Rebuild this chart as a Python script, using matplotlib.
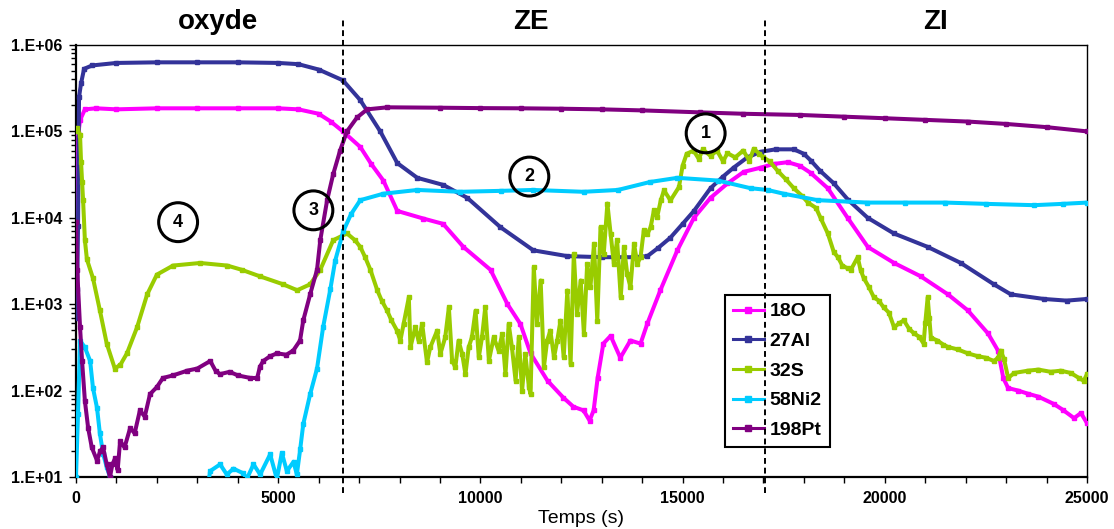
import matplotlib
matplotlib.use("Agg")
import matplotlib.pyplot as plt
from matplotlib.ticker import FixedLocator, FixedFormatter, LogLocator, NullFormatter, MultipleLocator
from matplotlib.transforms import blended_transform_factory
from matplotlib.lines import Line2D

plt.rcParams['font.family'] = ['Liberation Sans', 'DejaVu Sans']

# ---------------- data (time in s, intensity in counts) ----------------
t_18O = [0, 40, 60, 100, 220, 500, 1000, 2000, 3000, 4000, 5000, 5500, 6000, 6300, 6600, 7030, 7300, 7600,
         7945, 8590, 9080, 9580, 10250, 10670, 10990, 11240, 11660, 12050, 12300, 12550, 12700, 12800, 12900,
         13040, 13220, 13460, 13710, 13960, 14130, 14450, 14870, 15280, 15690, 16110, 16510, 16930, 17250,
         17600, 17900, 18170, 18590, 19080, 19580, 20230, 20890, 21560, 22050, 22550, 22800, 22930, 23050,
         23300, 23540, 23800, 24180, 24400, 24680, 24850, 25000]
v_18O = [2.1e3, 3.7e4, 9.6e4, 1.35e5, 1.8e5, 1.85e5, 1.8e5, 1.85e5, 1.85e5, 1.85e5, 1.85e5, 1.8e5, 1.6e5, 1.3e5,
         1.0e5, 6.6e4, 4.2e4, 2.7e4, 1.2e4, 9.8e3, 8.5e3, 4.6e3, 2.5e3, 1.0e3, 590, 270, 130, 83, 65, 59, 45, 59,
         141, 350, 430, 240, 380, 350, 600, 1.45e3, 4.2e3, 1.0e4, 1.7e4, 2.5e4, 3.4e4, 3.8e4, 4.2e4, 4.4e4, 4.0e4,
         3.3e4, 2.2e4, 1.0e4, 4.6e3, 3.0e3, 2.1e3, 1.3e3, 850, 460, 290, 140, 107, 100, 92, 85, 70, 60, 48, 55, 42]

t_27Al = [0, 30, 50, 75, 125, 200, 400, 1000, 2000, 3000, 4000, 5000, 5500, 6000, 6600, 7030, 7524, 7945, 8440,
          9083, 9677, 10494, 11311, 12152, 13000, 13786, 14130, 14400, 14700, 15000, 15280, 15690, 16000, 16260,
          16600, 16930, 17300, 17750, 18000, 18170, 18400, 18740, 19100, 19577, 20221, 21062, 21879, 22696,
          23116, 23933, 24500, 25000]
v_27Al = [7e2, 1.5e3, 8e3, 2.5e5, 3.6e5, 5.3e5, 5.8e5, 6.2e5, 6.3e5, 6.3e5, 6.3e5, 6.2e5, 6.0e5, 5.2e5, 3.9e5,
          2.3e5, 1.0e5, 4.3e4, 2.9e4, 2.4e4, 1.7e4, 7.8e3, 4.2e3, 3.6e3, 3.5e3, 3.5e3, 3.6e3, 4.5e3, 5.9e3, 8.5e3,
          1.2e4, 2.2e4, 3.0e4, 3.8e4, 5.0e4, 5.8e4, 6.2e4, 6.2e4, 5.5e4, 4.6e4, 3.5e4, 2.5e4, 1.6e4, 1.0e4, 6.6e3,
          4.6e3, 3.0e3, 1.7e3, 1.3e3, 1.15e3, 1.1e3, 1.15e3]

t_32S = [0, 25, 100, 125, 150, 175, 220, 270, 420, 590, 760, 960, 1100, 1260, 1510, 1760, 2000, 2400, 3070, 3740,
         4100, 4550, 5120, 5470, 5790, 6040, 6360, 6700, 6900, 7030, 7150, 7280, 7450, 7560, 7690, 7800,
         7940, 8020, 8100, 8230, 8270, 8390, 8470, 8560, 8680, 8760, 8930, 9010, 9130, 9220, 9300, 9380, 9460,
         9550, 9630, 9710, 9790, 9880, 9960, 10040, 10120, 10210, 10330, 10450, 10540, 10620, 10700, 10780,
         10870, 10950, 11030, 11110, 11200, 11240, 11320, 11400, 11490, 11570, 11650, 11730, 11820, 11900,
         11980, 12060, 12150, 12230, 12310, 12390, 12480, 12560, 12640, 12720, 12810, 12890, 12970, 13050,
         13140, 13220, 13300, 13380, 13470, 13550, 13630, 13710, 13800, 13880, 13960, 14040, 14130, 14210,
         14290, 14370, 14460, 14540, 14700, 14910, 15000, 15100, 15270, 15400, 15500, 15690, 15850, 16000,
         16110, 16300, 16500, 16650, 16760, 16900, 17000, 17150, 17350, 17550, 17750, 17950, 18100, 18300,
         18410, 18590, 18740, 18840, 18950, 19080, 19160, 19330, 19400, 19480, 19600, 19730, 19850, 19970,
         20100, 20230, 20350, 20470, 20600, 20720, 20850, 20960, 21000, 21060, 21100, 21140, 21300, 21450,
         21560, 21800, 22050, 22300, 22500, 22700, 22800, 22870, 22950, 23050, 23200, 23540, 23800, 24100,
         24350, 24600, 24800, 24920, 25000]
v_32S = [1.0e5, 1.1e5, 9.1e4, 4.4e4, 2.6e4, 1.6e4, 5.5e3, 3.3e3, 2.0e3, 850, 350, 180, 200, 270, 540, 1.3e3,
         2.2e3, 2.8e3, 3.0e3, 2.8e3, 2.5e3, 2.1e3, 1.7e3, 1.45e3, 1.7e3, 2.5e3, 5.5e3, 6.6e3, 5.5e3, 4.6e3,
         3.5e3, 2.5e3, 1.45e3, 1.1e3, 850, 650,
         494, 378, 590, 1200, 317, 540, 378, 590, 212, 317, 494, 265, 414, 920, 222, 186, 378,
         265, 155, 317, 414, 840, 243, 414, 920, 222, 414, 290, 452, 155, 590, 317,
         130, 414, 99, 265, 109, 91, 2680, 590, 1880, 186, 378, 494, 243, 378,
         645, 243, 1440, 203, 3830, 770, 1880, 452, 2930, 1570, 5000, 645, 7800, 3830,
         14600, 6500, 2930, 5500, 1200, 4580, 2250, 1570, 5000, 2930, 3500, 7150, 6500, 7800,
         12200, 10200, 15900, 20800, 15900, 22700, 4.0e4, 5.5e4, 6.0e4, 4.8e4, 6.2e4, 5.2e4, 6.0e4, 4.5e4,
         5.6e4, 5.0e4, 6.0e4, 4.6e4, 6.3e4, 5.5e4, 5.0e4, 4.5e4, 3.5e4, 2.8e4, 2.2e4, 1.8e4, 1.5e4, 1.3e4,
         1.0e4, 6.6e3, 4.0e3, 3.5e3, 2.8e3, 2.6e3, 2.5e3, 3.5e3, 2.5e3, 2.0e3, 1.6e3, 1.2e3, 1.1e3, 920,
         800, 540, 600, 650, 520, 460, 420, 350, 600, 1200, 700, 410, 380, 340,
         320, 300, 270, 250, 240, 220, 240, 290, 230, 140, 160, 170, 175, 165,
         170, 160, 140, 130, 155]

t_58Ni2 = [0, 50, 100, 220, 350, 420, 520, 590, 670, 760, 840, 950, 3200, 3316, 3564, 3729, 3894, 4141, 4224,
           4389, 4554, 4801, 4966, 5090, 5214, 5379, 5461, 5544, 5620, 5790, 5960, 6110, 6290, 6410, 6610,
           6800, 7030, 7600, 8440, 9500, 10500, 11300, 12550, 13400, 14200, 14870, 15870, 16680, 17100, 17500,
           18340, 19570, 20500, 21500, 22500, 23690, 24400, 25000]
v_58Ni2 = [10, 54, 380, 316, 220, 107, 63, 32, 18.6, 13, 10, 5, 5, 11.7, 14, 10.7, 12.5, 11, 9.5,
           14, 10.7, 18.3, 9.5, 19, 11.7, 15, 10.7, 21, 41, 91, 180, 540, 1.5e3, 3.2e3, 7.0e3,
           1.1e4, 1.6e4, 1.9e4, 2.1e4, 2.0e4, 2.05e4, 2.1e4, 2.0e4, 2.1e4, 2.6e4, 2.9e4, 2.7e4, 2.2e4, 2.1e4, 1.9e4,
           1.6e4, 1.5e4, 1.5e4, 1.5e4, 1.45e4, 1.4e4, 1.45e4, 1.5e4]

t_198Pt = [0, 30, 100, 150, 220, 300, 390, 520, 600, 670, 760, 840, 900, 970, 1030, 1090, 1200, 1340, 1450,
           1580, 1700, 1830, 2000, 2150, 2400, 2750, 3000, 3320, 3450, 3560, 3800, 4000, 4310, 4480, 4550,
           4630, 4800, 4970, 5200, 5370, 5540, 5620, 5790, 5960, 6040, 6210, 6360, 6530, 6700, 6950, 7200,
           7700, 9000, 10000, 11000, 12000, 13000, 14000, 15440, 16500, 17900, 19000, 20000, 21000, 22050,
           23000, 24000, 25000]
v_198Pt = [9e3, 2.5e3, 540, 220, 76, 37, 22, 15.5, 20, 22, 14, 10, 14, 16.6, 12, 26, 22, 37, 32,
           59, 50, 91, 110, 140, 150, 170, 180, 220, 170, 155, 165, 150, 140, 140, 190,
           220, 250, 270, 260, 290, 380, 650, 1.3e3, 2.5e3, 5.5e3, 1.6e4, 3.2e4, 6.0e4, 1.0e5, 1.45e5, 1.8e5,
           1.9e5, 1.88e5, 1.86e5, 1.85e5, 1.83e5, 1.8e5, 1.75e5, 1.66e5, 1.6e5, 1.55e5, 1.48e5, 1.42e5, 1.36e5,
           1.3e5, 1.22e5, 1.12e5, 1.0e5]

series_names = ["18O", "27Al", "32S", "58Ni2", "198Pt"]
series_t = [t_18O, t_27Al, t_32S, t_58Ni2, t_198Pt]
series_v = [v_18O, v_27Al, v_32S, v_58Ni2, v_198Pt]
series_colors = ["#FF00FF", "#333399", "#99CC00", "#00CCFF", "#800080"]

ytick_values = [1e1, 1e2, 1e3, 1e4, 1e5, 1e6]
ytick_labels = ["1.E+01", "1.E+02", "1.E+03", "1.E+04", "1.E+05", "1.E+06"]
xtick_values = [0, 5000, 10000, 15000, 20000, 25000]
xtick_labels = ["0", "5000", "10000", "15000", "20000", "25000"]

zone_bounds = [6610, 17030]
zone_names = ["oxyde", "ZE", "ZI"]
zone_label_x = [3515, 11240, 21260]

marker_labels = ["1", "2", "3", "4"]
marker_t = [15570, 11210, 5870, 2525]
marker_v = [9.5e4, 3.0e4, 1.22e4, 8.9e3]

# ---------------- figure ----------------
W, H = 1114, 529
fig = plt.figure(figsize=(W / 100, H / 100), dpi=100)
ax = fig.add_axes([76 / W, 1 - 477 / H, (1087 - 76) / W, (477 - 45) / H])

for t, v, c in zip(series_t, series_v, series_colors):
    ax.plot(t, v, color=c, lw=2.9, marker='s', ms=2.6, mec=c, mfc=c,
            solid_joinstyle='round', zorder=3)

ax.set_yscale('log')
ax.set_xlim(0, 25000)
ax.set_ylim(10, 1e6)

ax.yaxis.set_major_locator(FixedLocator(ytick_values))
ax.yaxis.set_major_formatter(FixedFormatter(ytick_labels))
ax.yaxis.set_minor_locator(LogLocator(base=10, subs=range(2, 10)))
ax.yaxis.set_minor_formatter(NullFormatter())
ax.xaxis.set_major_locator(FixedLocator(xtick_values))
ax.xaxis.set_major_formatter(FixedFormatter(xtick_labels))
ax.xaxis.set_minor_locator(MultipleLocator(1000))

ax.tick_params(axis='y', which='major', direction='out', length=5, width=1, pad=5,
               labelsize=11.5)
ax.tick_params(axis='y', which='minor', direction='out', length=3.5, width=1)
ax.tick_params(axis='x', which='both', direction='out', length=4, width=1, pad=6, labelsize=11.5)
for lab in ax.get_xticklabels() + ax.get_yticklabels():
    lab.set_fontweight('bold')

ax.spines['left'].set_linewidth(1.6)
ax.spines['bottom'].set_linewidth(1.6)
ax.spines['top'].set_linewidth(1.0)
ax.spines['right'].set_linewidth(1.0)

ax.set_xlabel("Temps (s)", fontsize=14, labelpad=3)

# zone separators
for xb in zone_bounds:
    ax.axvline(xb, ymin=-0.037, ymax=1.058, color='black', lw=1.4, ls=(0, (3, 2)),
               clip_on=False, zorder=6)

trans = blended_transform_factory(ax.transData, fig.transFigure)
for name, xz in zip(zone_names, zone_label_x):
    ax.text(xz, 1 - 22 / H, name, transform=trans, ha='center', va='center',
            fontsize=20, fontweight='bold')

# circled markers
ax.scatter(marker_t, marker_v, s=28 ** 2, facecolors='none', edgecolors='black',
           linewidths=2.2, zorder=7)
for lab, xm, ym in zip(marker_labels, marker_t, marker_v):
    ax.text(xm, ym, lab, ha='center', va='center', fontsize=13, fontweight='bold', zorder=8)

handles = [Line2D([0], [0], color=c, lw=2.2, marker='s', ms=4, mfc=c, mec=c) for c in series_colors]
leg = ax.legend(handles, series_names, loc='upper left',
                bbox_to_anchor=(725 / W, 1 - 295 / H), bbox_transform=fig.transFigure,
                prop={'size': 14, 'weight': 'bold'}, frameon=True, fancybox=False,
                framealpha=1, edgecolor='black', handlelength=1.6, handletextpad=0.3,
                labelspacing=0.62, borderpad=0.4, borderaxespad=0, numpoints=1)
leg.get_frame().set_linewidth(1.5)
leg.set_zorder(5)

fig.savefig("out.png", dpi=100)
